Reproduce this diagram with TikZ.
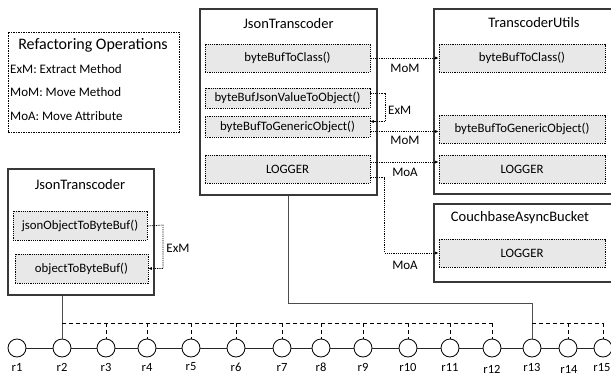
\documentclass[tikz,border=0pt]{standalone}
\usepackage{fontspec}
\setmainfont{Carlito}
\usetikzlibrary{arrows.meta,calc}

\begin{document}
\begin{tikzpicture}[x=1pt,y=-1pt,
  outerbox/.style={draw=black!78,line width=1.1pt,fill=white,inner sep=0pt},
  innerbox/.style={draw=black,dash pattern=on 1.2pt off 1pt,line width=0.7pt,fill=black!9,inner sep=0pt,font=\fontsize{12.8}{14}\selectfont},
  boxtitle/.style={font=\fontsize{14.5}{16}\selectfont,inner sep=0pt},
  conn/.style={black,dash pattern=on 1.2pt off 1pt,line width=0.7pt,-{Latex[length=3.5pt,width=3pt]}},
  oplabel/.style={font=\fontsize{13}{14}\selectfont,inner sep=0pt},
  legendtext/.style={font=\fontsize{13}{14}\selectfont,inner sep=0pt,anchor=west},
  rev/.style={circle,draw=black,line width=0.8pt,fill=white,minimum size=18pt,inner sep=0pt},
  revlabel/.style={font=\fontsize{12.5}{13}\selectfont,inner sep=0pt},
  history/.style={black!85,line width=0.9pt},
  link/.style={black!70,line width=1pt},
  future/.style={black,dash pattern=on 4pt off 3pt,line width=0.8pt}
]
\useasboundingbox (0,0) rectangle (611,375);
\clip (0,0) rectangle (611,375);

% legend
\node[draw=black,dash pattern=on 2pt off 1.2pt on 0.6pt off 1.2pt,line width=0.7pt,
      minimum width=171pt,minimum height=100pt,inner sep=0pt] (legend) at (93.5,82) {};
\node[boxtitle,font=\fontsize{16}{18}\selectfont] (legtitle) at (93,45) {Refactoring Operations};
\node[legendtext] (legexm) at (10,69) {ExM: Extract Method};
\node[legendtext] (legmom) at (10,92) {MoM: Move Method};
\node[legendtext] (legmoa) at (10,116) {MoA: Move Attribute};

% JsonTranscoder (later revision)
\node[outerbox,minimum width=177pt,minimum height=186pt] (jtb) at (288.5,102) {};
\node[boxtitle] (jtbtitle) at (288.5,24) {JsonTranscoder};
\node[innerbox,minimum width=165pt,minimum height=28pt] (b2c) at (287.5,58) {byteBufToClass()};
\node[innerbox,minimum width=165pt,minimum height=20pt] (jv) at (287.5,98) {byteBufJsonValueToObject()};
\node[innerbox,minimum width=165pt,minimum height=21pt] (gen) at (287.5,126.5) {byteBufToGenericObject()};
\node[innerbox,minimum width=165pt,minimum height=28pt] (log) at (287.5,169) {LOGGER};

% TranscoderUtils
\node[outerbox,minimum width=190pt,minimum height=185pt] (tu) at (529,101.5) {};
\node[boxtitle] (tutitle) at (534,23) {TranscoderUtils};
\node[innerbox,minimum width=166pt,minimum height=28pt] (b2cu) at (522,58) {byteBufToClass()};
\node[innerbox,minimum width=166pt,minimum height=28pt] (genu) at (522,129) {byteBufToGenericObject()};
\node[innerbox,minimum width=166pt,minimum height=28pt] (logu) at (522,169) {LOGGER};

% CouchbaseAsyncBucket
\node[outerbox,minimum width=190pt,minimum height=78pt] (cb) at (529,243) {};
\node[boxtitle] (cbtitle) at (520,218) {CouchbaseAsyncBucket};
\node[innerbox,minimum width=166pt,minimum height=28pt] (logc) at (522,253) {LOGGER};

% JsonTranscoder (earlier revision)
\node[outerbox,minimum width=146pt,minimum height=126pt] (jta) at (81,232) {};
\node[boxtitle] (jtatitle) at (80,185) {JsonTranscoder};
\node[innerbox,minimum width=134pt,minimum height=29pt] (jo) at (80,225.5) {jsonObjectToByteBuf()};
\node[innerbox,minimum width=133pt,minimum height=29pt] (ob) at (81.5,268.5) {objectToByteBuf()};

% refactoring connectors
\draw[conn] (b2c.east) -- (b2cu.west);
\node[oplabel] (mom1) at (405,68) {MoM};

\coordinate (jvout) at ([yshift=5pt]jv.east);
\coordinate (genin) at ([yshift=5pt]gen.east);
\draw[conn] (jvout) -- ++(15,0) |- (genin);
\node[oplabel,anchor=west] (exm1) at (388,110) {ExM};

\coordinate (genout) at ([yshift=-5pt]gen.east);
\draw[conn] (genout) -- (genout -| genu.west);
\node[oplabel] (mom2) at (405,140) {MoM};

\coordinate (logout1) at ([yshift=7pt]log.east);
\draw[conn] (logout1) -- (logout1 -| logu.west);
\node[oplabel] (moa1) at (405,172) {MoA};

\coordinate (logout2) at ([yshift=-8pt]log.east);
\draw[conn] (logout2) -- ++(14,0) |- (logc.west);
\node[oplabel] (moa2) at (405,265) {MoA};

\coordinate (joout) at ([yshift=-0.5pt]jo.east);
\draw[conn] (joout) -- (163,225) |- (ob.east);
\node[oplabel] (exm2) at (178,248) {ExM};

% revision history
\foreach \n/\x in {1/17,2/62,3/106,4/147,5/191,6/236,7/282,8/321,9/363,10/408,11/450,12/492,13/532,14/568,15/603}{
  \node[rev] (r\n) at (\x,348) {};
}
\foreach \a/\b in {1/2,2/3,3/4,4/5,5/6,6/7,7/8,8/9,9/10,10/11,11/12,12/13,13/14,14/15}{
  \draw[history] (r\a) -- (r\b);
}
\foreach \n/\x/\y in {1/17/367,2/62/367,3/106/367,4/147/367,5/191/367,6/236/367,7/282/367,8/321/367,9/363/367,10/408/367,11/450/367,12/492/369,13/532/367,14/569/369,15/602/368}{
  \node[revlabel] (l\n) at (\x,\y) {r\n};
}

% class versions attached to revisions
\draw[link] (r2 |- jta.south) -- (r2.north);
\coordinate (bus) at (0,303);
\draw[link] (jtb.south) |- (bus -| r13) -- (r13.north);

% revisions spanned by each version
\coordinate (span) at (0,323);
\draw[future] (span -| r2) -- (span -| r12);
\foreach \n in {3,...,12}{
  \draw[future] (span -| r\n) -- (r\n.north);
}
\draw[future] (span -| r13) -- (span -| r15);
\foreach \n in {14,15}{
  \draw[future] (span -| r\n) -- (r\n.north);
}
\end{tikzpicture}
\end{document}
